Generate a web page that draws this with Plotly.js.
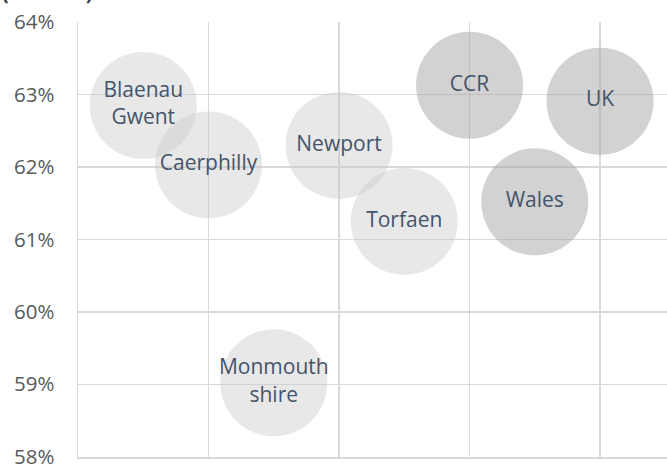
<!DOCTYPE html>
<html>
<head>
<meta charset="utf-8">
<script src="https://cdn.plot.ly/plotly-3.0.1.min.js"></script>
<style>html,body{margin:0;padding:0;background:#fff;}#chart{width:667px;height:465px;}</style>
</head>
<body>
<div id="chart"></div>
<script>
// Local areas (light bubbles)
const areaNames = ["Blaenau<br>Gwent", "Caerphilly", "Newport", "Torfaen", "Monmouth<br>shire"];
const areaX = [0.50, 1.00, 2.00, 2.50, 1.50];
const areaY = [62.85, 62.03, 62.30, 61.25, 59.02];

// Regional / national comparators (darker bubbles)
const regionNames = ["CCR", "UK", "Wales"];
const regionX = [3.00, 4.00, 3.50];
const regionY = [63.13, 62.91, 61.52];

const yTicks = [58, 59, 60, 61, 62, 63, 64];
const yTickText = yTicks.map(v => v + "%");

const labelFont = {family: "Open Sans, sans-serif", size: 21, color: "#44546A"};

const traces = [
  {
    type: "scatter", mode: "markers+text",
    x: areaX, y: areaY, text: areaNames,
    textposition: "middle center", textfont: labelFont,
    marker: {size: 107, color: "rgba(200,200,200,0.42)", line: {width: 0}},
    hoverinfo: "none", cliponaxis: false
  },
  {
    type: "scatter", mode: "markers+text",
    x: regionX, y: regionY, text: regionNames,
    textposition: "middle center", textfont: labelFont,
    marker: {size: 107, color: "rgba(165,165,165,0.5)", line: {width: 0}},
    hoverinfo: "none", cliponaxis: false
  }
];

const layout = {
  width: 667, height: 465,
  margin: {l: 78, r: 0, t: 22, b: 8},
  paper_bgcolor: "#ffffff", plot_bgcolor: "#ffffff",
  showlegend: false,
  xaxis: {
    range: [0, 4.513], showticklabels: false,
    tickvals: [0, 1, 2, 3, 4],
    showgrid: true, gridcolor: "#D9D9D9", gridwidth: 1.3,
    zeroline: false, showline: true, linecolor: "#D9D9D9", linewidth: 1.5,
    mirror: false, fixedrange: true
  },
  yaxis: {
    range: [57.996, 64.004], tickvals: yTicks, ticktext: yTickText,
    showgrid: true, gridcolor: "#D9D9D9", gridwidth: 1.3,
    zeroline: false, showline: true, linecolor: "#D9D9D9", linewidth: 1.5,
    ticks: "", ticklabelstandoff: 18, ticklabeloverflow: "allow",
    tickfont: {family: "Open Sans, sans-serif", size: 20.5, color: "#595959"},
    fixedrange: true
  },
  annotations: [{
    xref: "paper", yref: "paper", x: -0.133, y: 1.033,
    xanchor: "left", yanchor: "bottom", showarrow: false,
    text: "<b>(2019/20)</b>", font: {family: "Open Sans, sans-serif", size: 20, color: "#404040"}
  }]
};

Plotly.newPlot("chart", traces, layout, {displayModeBar: false, staticPlot: true});
</script>
</body>
</html>
